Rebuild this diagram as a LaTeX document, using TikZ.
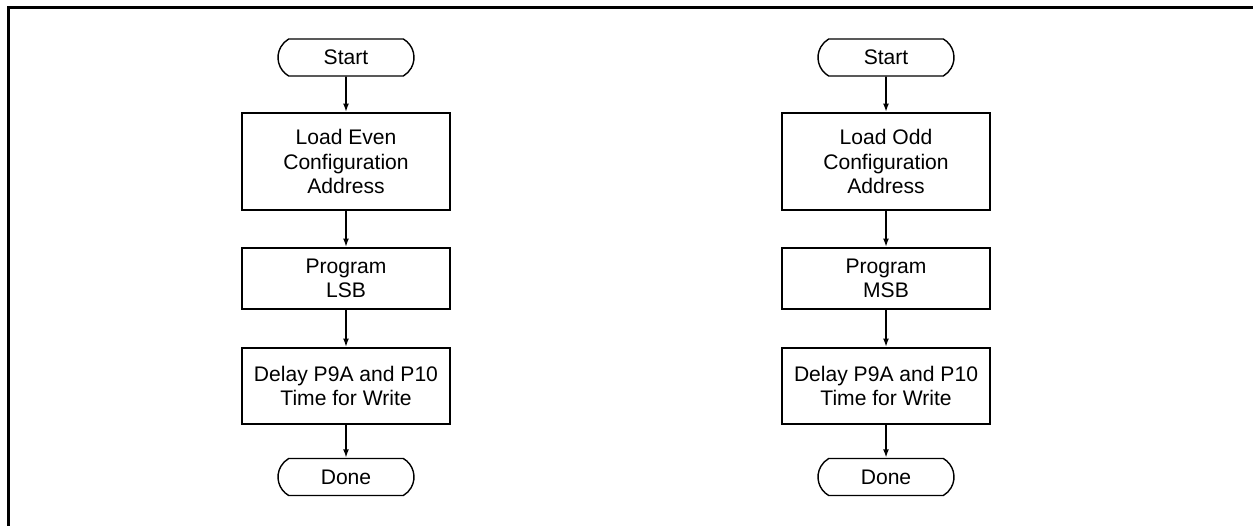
\documentclass[tikz,border=0pt]{standalone}
\usepackage{fontspec}
\setmainfont{Liberation Sans}
\usetikzlibrary{shapes.misc,arrows.meta}
\begin{document}
\begin{tikzpicture}[x=0.02cm,y=-0.02cm,
	every node/.style={font=\fontsize{12pt}{14pt}\selectfont, align=center},
	term/.style={rounded rectangle, rounded rectangle arc length=120, draw, line width=0.8pt, minimum width=2.72cm, minimum height=0.74cm, inner sep=0pt},
	proc/.style={rectangle, draw, line width=1.1pt, minimum width=4.16cm, inner sep=0pt},
	flow/.style={line width=1.1pt, -{Latex[length=1.7mm,width=1.2mm]}}]
	\useasboundingbox (0,0) rectangle (1253,526);
	\draw[line width=1.7pt] (8.5,526) -- (8.5,7.5) -- (1253,7.5);
	\foreach \x/\i/\kind/\bits in {346/1/Even/LSB, 886/2/Odd/MSB}
	{
	\node[term] (start\i) at (\x,57.5) {Start};
	\node[proc, minimum height=1.94cm] (load\i) at (\x,161.5) {Load \kind\\Configuration\\Address};
	\node[proc, minimum height=1.22cm] (prog\i) at (\x,278.5) {Program\\\bits};
	\node[proc, minimum height=1.52cm] (delay\i) at (\x,386) {Delay P9A and P10\\Time for Write};
	\node[term] (done\i) at (\x,477) {Done};
	\draw[flow] (start\i) -- (load\i);
	\draw[flow] (load\i) -- (prog\i);
	\draw[flow] (prog\i) -- (delay\i);
	\draw[flow] (delay\i) -- (done\i);
	}
\end{tikzpicture}
\end{document}
